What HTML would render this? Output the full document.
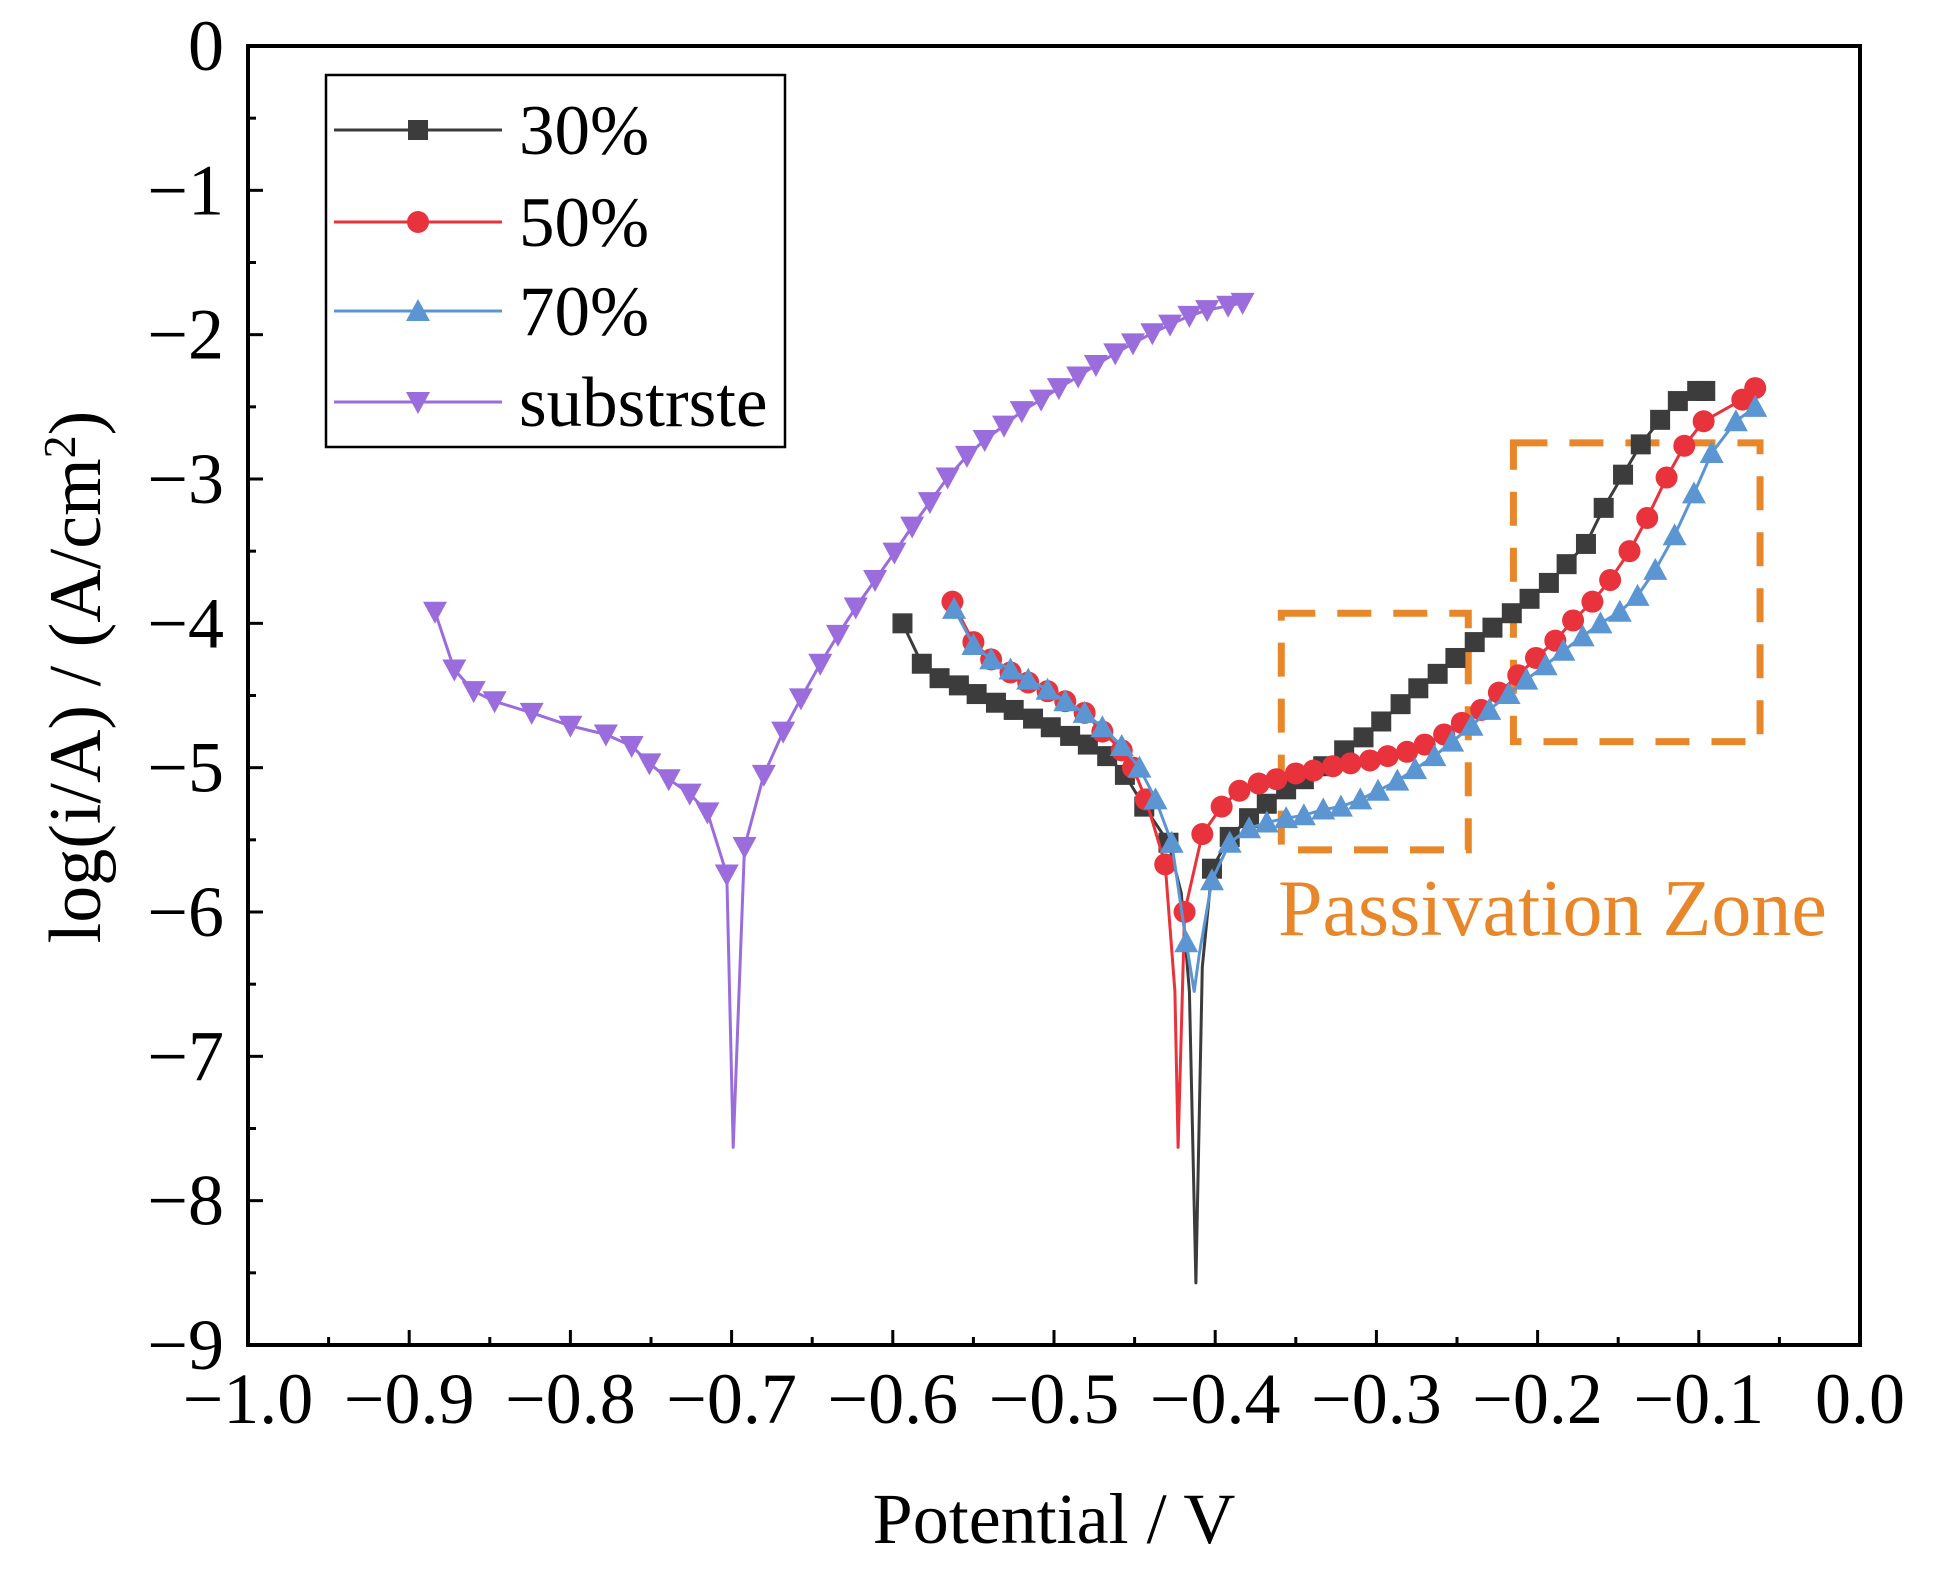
<!DOCTYPE html>
<html><head><meta charset="utf-8"><style>
html,body{margin:0;padding:0;background:#fff;}
svg{display:block;font-family:"Liberation Serif",serif;}
</style></head><body>
<svg id="chart" width="1938" height="1586" viewBox="0 0 1938 1586" xmlns="http://www.w3.org/2000/svg">
<rect width="1938" height="1586" fill="#fff"/>
<g id="plot"></g>
<g id="axes"></g>
<text x="1054" y="1543" font-size="72" text-anchor="middle">Potential / V</text>
<text transform="translate(100,677) rotate(-90)" font-size="74" text-anchor="middle">log(i/A) / (A/cm<tspan baseline-shift="super" font-size="46">2</tspan>)</text>
<text x="1278" y="935" font-size="80" fill="#e8862a">Passivation Zone</text>
<g id="legend"></g>
</svg>
<script>
const xTicks=[-1.0,-0.9,-0.8,-0.7,-0.6,-0.5,-0.4,-0.3,-0.2,-0.1,0.0];
const xTickLabels=["\u22121.0","\u22120.9","\u22120.8","\u22120.7","\u22120.6","\u22120.5","\u22120.4","\u22120.3","\u22120.2","\u22120.1","0.0"];
const yTicks=[0,-1,-2,-3,-4,-5,-6,-7,-8,-9];
const yTickLabels=["0","\u22121","\u22122","\u22123","\u22124","\u22125","\u22126","\u22127","\u22128","\u22129"];
const seriesNames=["30%","50%","70%","substrste"];
const subX=[-0.884,-0.872,-0.86,-0.847,-0.824,-0.80,-0.778,-0.762,-0.751,-0.739,-0.726,-0.715,-0.703,-0.699,-0.692,-0.68,-0.668,-0.657,-0.645,-0.634,-0.623,-0.611,-0.599,-0.588,-0.577,-0.566,-0.554,-0.543,-0.531,-0.52,-0.508,-0.497,-0.485,-0.474,-0.462,-0.451,-0.439,-0.428,-0.416,-0.405,-0.392,-0.383];
const subY=[-3.92,-4.32,-4.47,-4.54,-4.62,-4.71,-4.77,-4.85,-4.97,-5.08,-5.18,-5.31,-5.74,-7.63,-5.55,-5.05,-4.75,-4.52,-4.28,-4.08,-3.89,-3.70,-3.51,-3.33,-3.16,-2.99,-2.84,-2.73,-2.63,-2.53,-2.45,-2.37,-2.29,-2.21,-2.13,-2.06,-1.99,-1.93,-1.87,-1.83,-1.80,-1.78];
const subM=[1,1,1,1,1,1,1,1,1,1,1,1,1,0,1,1,1,1,1,1,1,1,1,1,1,1,1,1,1,1,1,1,1,1,1,1,1,1,1,1,1,1];
const s30X=[-0.594,-0.582,-0.571,-0.559,-0.548,-0.536,-0.525,-0.513,-0.502,-0.49,-0.479,-0.467,-0.456,-0.444,-0.429,-0.421,-0.416,-0.412,-0.408,-0.402,-0.391,-0.379,-0.368,-0.356,-0.345,-0.333,-0.32,-0.308,-0.297,-0.285,-0.274,-0.262,-0.251,-0.239,-0.228,-0.216,-0.205,-0.193,-0.182,-0.17,-0.159,-0.147,-0.136,-0.124,-0.113,-0.101,-0.096];
const s30Y=[-4.0,-4.28,-4.38,-4.43,-4.49,-4.55,-4.6,-4.66,-4.72,-4.78,-4.84,-4.92,-5.05,-5.27,-5.52,-5.87,-6.55,-8.57,-6.38,-5.7,-5.48,-5.35,-5.25,-5.15,-5.08,-4.99,-4.88,-4.79,-4.68,-4.56,-4.45,-4.35,-4.24,-4.13,-4.03,-3.93,-3.83,-3.72,-3.59,-3.45,-3.2,-2.97,-2.76,-2.59,-2.46,-2.39,-2.39];
const s30M=[1,1,1,1,1,1,1,1,1,1,1,1,1,1,1,0,0,0,0,1,1,1,1,1,1,1,1,1,1,1,1,1,1,1,1,1,1,1,1,1,1,1,1,1,1,1,1];
const s50X=[-0.563,-0.55,-0.539,-0.527,-0.516,-0.504,-0.493,-0.481,-0.47,-0.458,-0.451,-0.443,-0.431,-0.425,-0.423,-0.419,-0.408,-0.396,-0.385,-0.373,-0.362,-0.35,-0.339,-0.327,-0.316,-0.304,-0.293,-0.281,-0.27,-0.258,-0.247,-0.235,-0.224,-0.212,-0.201,-0.189,-0.178,-0.166,-0.155,-0.143,-0.132,-0.12,-0.109,-0.097,-0.073,-0.065];
const s50Y=[-3.85,-4.13,-4.25,-4.34,-4.41,-4.47,-4.54,-4.62,-4.75,-4.88,-5.0,-5.22,-5.67,-6.55,-7.63,-6.0,-5.46,-5.27,-5.16,-5.11,-5.08,-5.04,-5.02,-4.99,-4.97,-4.95,-4.92,-4.89,-4.84,-4.77,-4.69,-4.6,-4.48,-4.36,-4.24,-4.12,-3.98,-3.85,-3.7,-3.5,-3.27,-2.99,-2.77,-2.6,-2.45,-2.37];
const s50M=[1,1,1,1,1,1,1,1,1,1,1,1,1,0,0,1,1,1,1,1,1,1,1,1,1,1,1,1,1,1,1,1,1,1,1,1,1,1,1,1,1,1,1,1,1,1];
const s70X=[-0.562,-0.55,-0.539,-0.527,-0.516,-0.504,-0.493,-0.481,-0.47,-0.458,-0.447,-0.437,-0.427,-0.418,-0.413,-0.41,-0.402,-0.391,-0.379,-0.368,-0.356,-0.345,-0.333,-0.322,-0.31,-0.299,-0.287,-0.276,-0.264,-0.253,-0.241,-0.23,-0.218,-0.207,-0.195,-0.184,-0.172,-0.161,-0.149,-0.138,-0.127,-0.115,-0.103,-0.092,-0.077,-0.065];
const s70Y=[-3.9,-4.15,-4.25,-4.32,-4.39,-4.46,-4.54,-4.62,-4.72,-4.85,-5.0,-5.22,-5.52,-6.21,-6.55,-6.3,-5.78,-5.52,-5.42,-5.38,-5.35,-5.33,-5.29,-5.27,-5.22,-5.16,-5.09,-5.01,-4.92,-4.82,-4.71,-4.6,-4.49,-4.39,-4.29,-4.19,-4.09,-4.0,-3.92,-3.81,-3.63,-3.39,-3.1,-2.82,-2.6,-2.5];
const s70M=[1,1,1,1,1,1,1,1,1,1,1,1,1,1,0,0,1,1,1,1,1,1,1,1,1,1,1,1,1,1,1,1,1,1,1,1,1,1,1,1,1,1,1,1,1,1];
const zone1X=[-0.359,-0.243];
const zone1Y=[-3.93,-5.57];
const zone2X=[-0.215,-0.062];
const zone2Y=[-2.75,-4.82];

const NS="http://www.w3.org/2000/svg";
const L=248,R=1860,T=46,B=1345;
function sx(v){return L+(v-(-1.0))/(1.0)*(R-L);}
function sy(v){return T+(0-v)/9*(B-T);}
function mk(tag,attrs,parent){const e=document.createElementNS(NS,tag);for(const k in attrs)e.setAttribute(k,attrs[k]);parent.appendChild(e);return e;}
const plot=document.getElementById('plot'),axes=document.getElementById('axes'),legend=document.getElementById('legend');

function marker(type,x,y,color,parent){
  let e;
  if(type==='square'){e=mk('rect',{x:x-10,y:y-10,width:20,height:20,fill:color},parent);}
  else if(type==='circle'){e=mk('circle',{cx:x,cy:y,r:11,fill:color},parent);}
  else if(type==='up'){e=mk('polygon',{points:`${x},${y-12} ${x-12},${y+10} ${x+12},${y+10}`,fill:color},parent);}
  else {e=mk('polygon',{points:`${x},${y+12} ${x-12},${y-10} ${x+12},${y-10}`,fill:color},parent);}
  
  
}
function series(name,X,Y,M,color,type){
  const g=mk('g',{},plot);
  
  
  const pts=X.map((v,i)=>sx(v).toFixed(1)+','+sy(Y[i]).toFixed(1)).join(' ');
  const pl=mk('polyline',{points:pts,fill:'none',stroke:color,'stroke-width':3,'stroke-linejoin':'round'},g);
  
  
  X.forEach((v,i)=>{if(!M||M[i])marker(type,sx(v),sy(Y[i]),color,g);});
}
[[zone1X,zone1Y,'passivation-box-1'],[zone2X,zone2Y,'passivation-box-2']].forEach(z=>{
  const r=mk('rect',{x:sx(z[0][0]),y:sy(z[1][0]),width:sx(z[0][1])-sx(z[0][0]),height:sy(z[1][1])-sy(z[1][0]),fill:'none',stroke:'#e8862a','stroke-width':7,'stroke-dasharray':'34 22'},plot);
  
  
});
series('substrate',subX,subY,subM,'#9b6ddc','down');
series('30',s30X,s30Y,s30M,'#3c3c3c','square');
series('50',s50X,s50Y,s50M,'#e8323c','circle');
series('70',s70X,s70Y,s70M,'#5b96d2','up');

const fr=mk('rect',{x:L,y:T,width:R-L,height:B-T,fill:'none',stroke:'#000','stroke-width':4},axes);


xTicks.forEach((v,i)=>{
  const x=sx(v);
  const t=mk('line',{x1:x,y1:B,x2:x,y2:B-15,stroke:'#000','stroke-width':3},axes);
  
  
  if(i<xTicks.length-1){const m=mk('line',{x1:sx(v+0.05),y1:B,x2:sx(v+0.05),y2:B-8,stroke:'#000','stroke-width':3},axes);
    
    }
  const lb=mk('text',{x:x,y:B+78,'font-size':72,'text-anchor':'middle'},axes);
  lb.textContent=xTickLabels[i];
  
  
});
yTicks.forEach((v,i)=>{
  const y=sy(v);
  const t=mk('line',{x1:L,y1:y,x2:L+15,y2:y,stroke:'#000','stroke-width':3},axes);
  
  
  if(i<yTicks.length-1){const m=mk('line',{x1:L,y1:sy(v-0.5),x2:L+8,y2:sy(v-0.5),stroke:'#000','stroke-width':3},axes);
    
    }
  const lb=mk('text',{x:L-24,y:y+24,'font-size':72,'text-anchor':'end'},axes);
  lb.textContent=yTickLabels[i];
  
  
});
const lbx=mk('rect',{x:326,y:75,width:459,height:372,fill:'#fff',stroke:'#000','stroke-width':2.5},legend);


const lcol=['#3c3c3c','#e8323c','#5b96d2','#9b6ddc'],ltype=['square','circle','up','down'],ly=[130,222,311,402];
seriesNames.forEach((n,i)=>{
  const g=mk('g',{},legend);
  
  
  mk('line',{x1:334,y1:ly[i],x2:502,y2:ly[i],stroke:lcol[i],'stroke-width':3},g);
  marker(ltype[i],418,ly[i],lcol[i],g);
  const t=mk('text',{x:519,y:ly[i]+24,'font-size':71},g);
  t.textContent=n;
});
</script>
</body></html>
